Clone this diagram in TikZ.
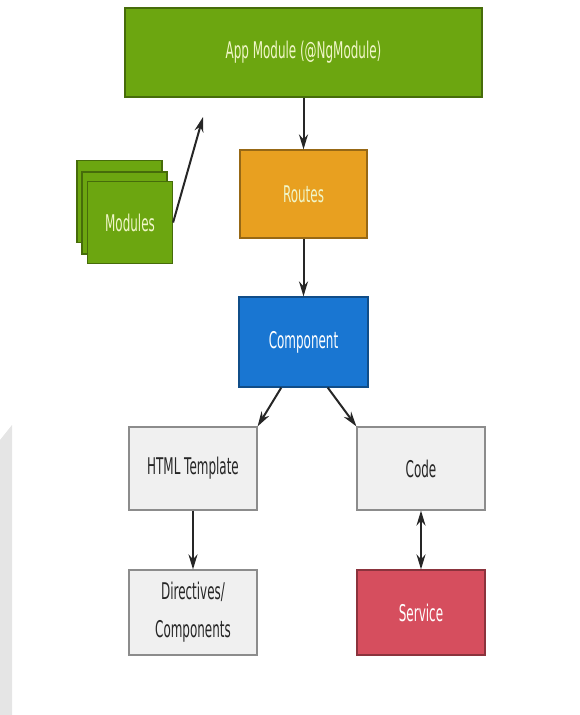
\documentclass[tikz,border=0pt]{standalone}
\usepackage{fontspec}
\setmainfont{DejaVu Sans}[FakeStretch=0.52]
\usetikzlibrary{arrows.meta}
\definecolor{ngGreen}{RGB}{108,166,16}
\definecolor{ngOrange}{RGB}{232,160,32}
\definecolor{ngBlue}{RGB}{25,118,210}
\definecolor{ngGray}{RGB}{240,240,240}
\definecolor{ngRed}{RGB}{214,78,94}
\definecolor{ngPale}{RGB}{240,246,200}

\begin{document}
\begin{tikzpicture}[x=1pt,y=-1pt,
		box/.style={draw=#1!65!black,fill=#1,line width=1.2pt,minimum width=128pt,minimum height=88pt,text=white,align=center,
			font=\fontsize{23}{38}\selectfont},
		greybox/.style={box=ngGray,draw=black!45,text=black!85,minimum height=83pt},
		sheet/.style={box=ngGreen,minimum width=85pt,minimum height=82pt,text=ngPale},
		link/.style={line width=2pt,draw=black!85,-{Stealth[length=15pt,width=9pt]}}]
		\useasboundingbox (0,0) rectangle (579,715);
		\fill[black!10] (0,440) -- (12,425) -- (12,715) -- (0,715) -- cycle;
		% top part
		\node[box=ngGreen,text=ngPale,minimum width=357pt,minimum height=89pt] (app) at (303.5,52.5) {App Module (@NgModule)};
		\node[box=ngOrange,text=ngPale,minimum width=127pt] (routes) at (303.5,194) {Routes};
		\node[box=ngBlue,minimum width=129pt,minimum height=90pt] (comp) at (303.5,342) {Component};
		\node[sheet] (modc) at (119.5,201.5) {};
		\node[sheet] (modb) at (124.5,213) {};
		\node[sheet] (moda) at (130,222.5) {Modules};
		\coordinate (appin) at (203,117);
		% bottom part
		\node[greybox] (html) at (193,468.5) {HTML Template};
		\node[greybox] (code) at (421,468.5) {Code};
		\node[greybox,minimum height=85pt] (dirs) at (193,612.5) {Directives/\\Components};
		\node[box=ngRed,minimum height=85pt] (serv) at (421,612.5) {Service};
		\draw[link] (app) -- (routes);
		\draw[link] (routes) -- (comp);
		\draw[link] (moda.east) -- (appin);
		\draw[link] (comp.244) -- (html.north east);
		\draw[link] (comp.298) -- (code.north west);
		\draw[link] (html) -- (dirs);
		\draw[link,{Stealth[length=15pt,width=9pt]}-{Stealth[length=15pt,width=9pt]}] (code) -- (serv);
		\end{tikzpicture}
\end{document}
